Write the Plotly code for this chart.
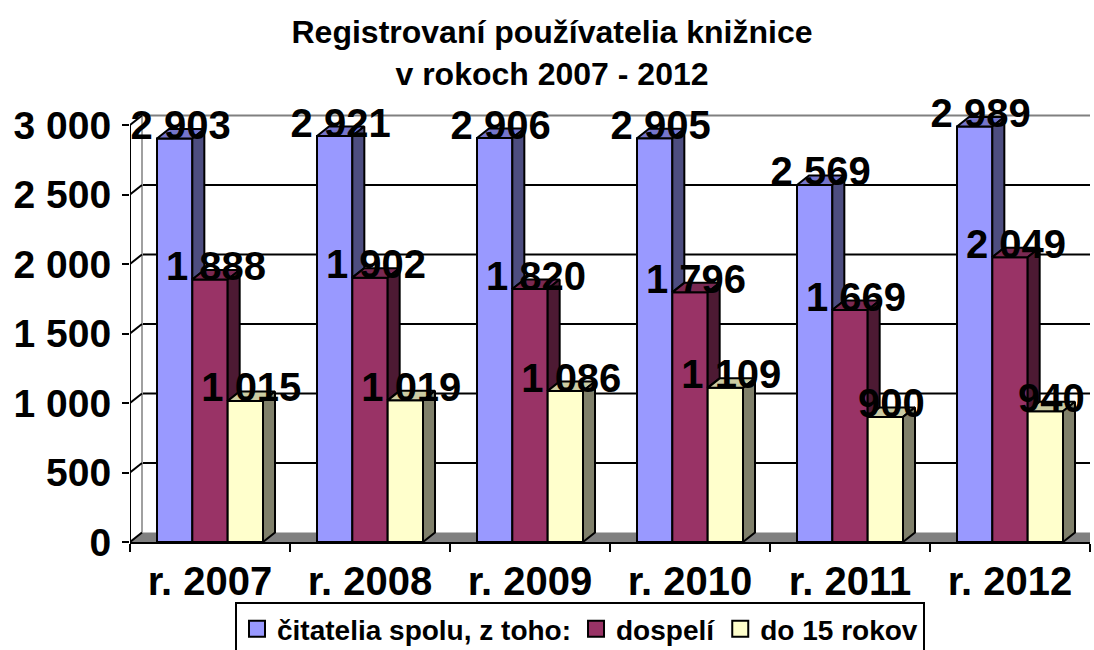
import plotly.graph_objects as go

# ---------------- data ----------------
categories = ["r. 2007", "r. 2008", "r. 2009", "r. 2010", "r. 2011", "r. 2012"]
series_names = ["čitatelia spolu, z toho:", "dospelí", "do 15 rokov"]
total_readers = [2903, 2921, 2906, 2905, 2569, 2989]
adult_readers = [1888, 1902, 1820, 1796, 1669, 2049]
child_readers = [1015, 1019, 1086, 1109, 900, 940]
y_ticks = [0, 500, 1000, 1500, 2000, 2500, 3000]
title_lines = ["Registrovaní používatelia knižnice", "v rokoch 2007 - 2012"]

# ---------------- styling ----------------
front_colors = ["#9999FF", "#993366", "#FFFFCC"]
top_colors = ["#7575CC", "#7A2952", "#CCCCA3"]
side_colors = ["#4D4D80", "#4D1A33", "#80806A"]
FONT = "Liberation Sans, Arial, sans-serif"

W, H = 1094, 650
M_L, M_R, M_T, M_B = 130, 4, 110, 108
Y_MAX = 3108
BARGAP = 0.3375
DEPTH_X_PX, DEPTH_Y_PX = 12, 9.5

plot_w = W - M_L - M_R
plot_h = H - M_T - M_B
n_cat = len(categories)
dxu = DEPTH_X_PX / (plot_w / n_cat)          # depth in category units
dyu = DEPTH_Y_PX / (plot_h / Y_MAX)          # depth in value units

series = [total_readers, adult_readers, child_readers]
n_ser = len(series)
xs = list(range(n_cat))
group_w = 1 - BARGAP
bar_w = group_w / n_ser

fig = go.Figure()

# front faces (real bars)
for s, vals in enumerate(series):
    fig.add_trace(go.Bar(
        x=xs, y=vals, name=series_names[s], showlegend=False,
        marker=dict(color=front_colors[s], line=dict(color="black", width=2)),
        hoverinfo="skip"))

# 3D faces derived from the data
for s, vals in enumerate(series):
    tx, ty, sx, sy = [], [], [], []
    for c in xs:
        x0 = c - group_w / 2 + bar_w * s
        x1 = x0 + bar_w
        v = vals[c]
        # top face
        tx += [x0, x1, x1 + dxu, x0 + dxu, x0, None]
        ty += [v, v, v + dyu, v + dyu, v, None]
        # visible part of the side face
        low = series[s + 1][c] if s + 1 < n_ser else 0
        if v > low:
            sx += [x1, x1, x1 + dxu, x1 + dxu, x1, None]
            sy += [low, v, v + dyu, low + dyu, low, None]
    fig.add_trace(go.Scatter(x=tx, y=ty, mode="lines", fill="toself",
                             fillcolor=top_colors[s], line=dict(color="black", width=2),
                             showlegend=False, hoverinfo="skip"))
    fig.add_trace(go.Scatter(x=sx, y=sy, mode="lines", fill="toself",
                             fillcolor=side_colors[s], line=dict(color="black", width=2),
                             showlegend=False, hoverinfo="skip"))

# data labels
for s, vals in enumerate(series):
    lx = [c - group_w / 2 + bar_w * (s + 0.5) + dxu / 2 for c in xs]
    ly = [v + dyu for v in vals]
    fig.add_trace(go.Scatter(
        x=lx, y=ly, mode="text",
        text=[f"{v:,}".replace(",", " ") for v in vals],
        textposition="middle center",
        textfont=dict(family=FONT, size=40, color="black", weight="bold"),
        cliponaxis=False, showlegend=False, hoverinfo="skip"))

# legend entries
for s in range(n_ser):
    fig.add_trace(go.Scatter(
        x=[None], y=[None], mode="markers", name=series_names[s],
        marker=dict(symbol="square", size=16, color=front_colors[s],
                    line=dict(color="black", width=2))))

# walls, floor, gridlines (decoration)
shapes = []
x_left = -0.5
x_right = n_cat - 0.5
# floor
shapes.append(dict(type="path", xref="x", yref="y", layer="below",
                   path=f"M {x_left},0 L {x_right},0 L {x_right},{dyu} L {x_left + dxu},{dyu} Z",
                   fillcolor="#808080", line=dict(width=0)))
# back-wall gridlines
for t in y_ticks[1:]:
    shapes.append(dict(type="line", xref="x", yref="y", layer="below",
                       x0=x_left + dxu, x1=x_right, y0=t + dyu, y1=t + dyu,
                       line=dict(color="#808080" if t == y_ticks[-1] else "black", width=2)))
# left wall back edge
shapes.append(dict(type="line", xref="x", yref="y", layer="below",
                   x0=x_left + dxu, x1=x_left + dxu, y0=dyu, y1=y_ticks[-1] + dyu,
                   line=dict(color="#A0A0A0", width=2)))
# diagonal tick connectors
for t in y_ticks:
    shapes.append(dict(type="line", xref="x", yref="y", layer="below",
                       x0=x_left, x1=x_left + dxu, y0=t, y1=t + dyu,
                       line=dict(color="black", width=2)))
# front value axis
shapes.append(dict(type="line", xref="x", yref="y", layer="above",
                   x0=x_left, x1=x_left, y0=0, y1=y_ticks[-1],
                   line=dict(color="black", width=2)))

fig.update_layout(
    width=W, height=H,
    margin=dict(l=M_L, r=M_R, t=M_T, b=M_B, autoexpand=False),
    paper_bgcolor="white", plot_bgcolor="white",
    separators=", ",
    barmode="group", bargap=BARGAP, bargroupgap=0,
    shapes=shapes,
    font=dict(family=FONT, color="black"),
    title=dict(text="<br>".join(title_lines), x=552 / W, xref="container", xanchor="center",
               y=1 - 43 / H, yref="container", yanchor="top",
               font=dict(family=FONT, size=32, color="black", weight="bold")),
    xaxis=dict(range=[x_left, x_right], tickmode="array", tickvals=xs, ticktext=categories,
               ticks="", showgrid=False, zeroline=False,
               showline=True, linecolor="black", linewidth=2,
               tickfont=dict(family=FONT, size=40, color="black", weight="bold"),
               ticklabelstandoff=3,
               minor=dict(ticks="outside", tick0=-0.5, dtick=1, ticklen=8,
                          tickwidth=2, tickcolor="black", showgrid=False)),
    yaxis=dict(range=[0, Y_MAX], tickmode="array", tickvals=y_ticks, tickformat=",d",
               showgrid=False, zeroline=False, showline=False,
               ticks="outside", ticklen=7, tickwidth=2, tickcolor="black",
               ticklabelstandoff=3,
               tickfont=dict(family=FONT, size=39, color="black", weight="bold")),
    legend=dict(orientation="h", x=(580 - M_L) / plot_w, xanchor="center",
                y=(plot_h - (602 - M_T)) / plot_h, yanchor="top",
                bordercolor="black", borderwidth=2, bgcolor="white",
                font=dict(family=FONT, size=28, color="black", weight="bold"),
                itemclick=False, itemdoubleclick=False),
)

fig.write_html("out.html", config={"displayModeBar": False},
               post_script="document.body.style.margin='0';")
